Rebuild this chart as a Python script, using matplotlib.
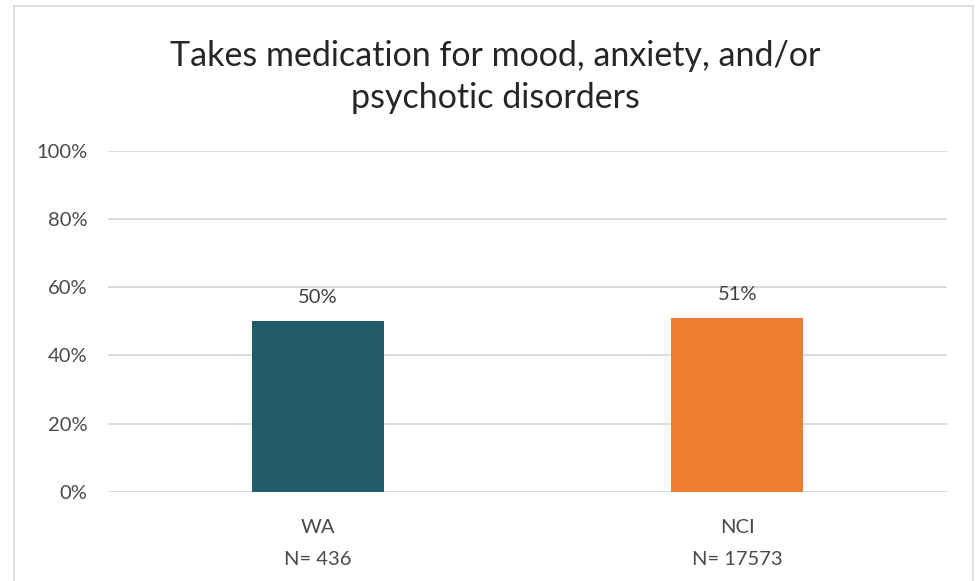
import matplotlib.pyplot as plt
from matplotlib.patches import Rectangle

categorias = ['WA\nN= 436', 'NCI\nN= 17573']
valores = [50, 51]
cores = ['#235B6B', '#ED7D31']
ticks_y = [0, 20, 40, 60, 80, 100]

plt.rcParams['font.family'] = ['Lato', 'DejaVu Sans']

W, H = 978, 581
fig = plt.figure(figsize=(W / 100, H / 100), dpi=100)
ax = fig.add_axes([108 / W, (H - 491.7) / H, (947 - 108) / W, (491.7 - 151) / H])

x = range(len(categorias))
barras = ax.bar(x, valores, width=0.315, color=cores)
for b, v in zip(barras, valores):
    ax.annotate(f'{v}%', (b.get_x() + b.get_width() / 2, v), xytext=(0, 11),
                textcoords='offset points', ha='center', va='bottom',
                fontsize=14.5, color='#404040')

ax.set_xlim(-0.5, 1.5)
ax.set_ylim(0, 100)
ax.set_yticks(ticks_y)
ax.set_yticklabels([f'{t}%' for t in ticks_y])
ax.set_xticks(list(x))
ax.set_xticklabels(categorias, linespacing=2.05)
ax.tick_params(axis='both', length=0, labelsize=14.5, labelcolor='#4A4A4A')
ax.tick_params(axis='y', pad=15)
ax.tick_params(axis='x', pad=20)
ax.grid(axis='y', color='#D9D9D9', linewidth=1.3)
ax.set_axisbelow(True)
for s in ax.spines.values():
    s.set_visible(False)

fig.text(495 / W, (H - 77) / H, 'Takes medication for mood, anxiety, and/or\npsychotic disorders',
         ha='center', va='center', fontsize=24.5, color='#262626', linespacing=1.42)

fig.add_artist(Rectangle((14.5 / W, -0.1), (973 - 14.5) / W, 1.1 - 6 / H,
                         transform=fig.transFigure, fill=False,
                         edgecolor='#D9D9D9', linewidth=1.2))

fig.savefig('out.png', dpi=100)
